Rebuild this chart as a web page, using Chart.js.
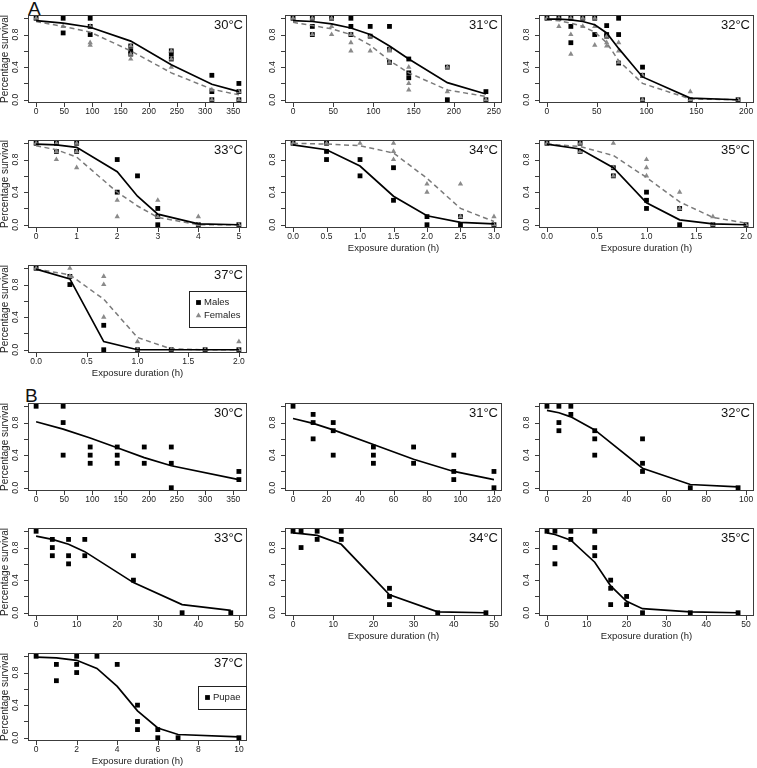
<!DOCTYPE html>
<html><head><meta charset="utf-8">
<script src="https://cdn.jsdelivr.net/npm/chart.js@4.4.1/dist/chart.umd.min.js"></script>
<style>
html,body{margin:0;padding:0;background:#fff;}
body{width:757px;height:768px;position:relative;overflow:hidden;font-family:"Liberation Sans",Arial,sans-serif;}
canvas{position:absolute;}
.lab{position:absolute;font-size:19px;line-height:19px;color:#111;}
</style></head><body>
<div class="lab" style="left:28px;top:-1px">A</div>
<div class="lab" style="left:25px;top:386px">B</div>
<script>
// ---------- Panel A: adults (males / females), 30–37 °C ----------
const A30_hours = [0, 48, 96, 168, 240, 312, 360];
const A30_ticks = [0, 50, 100, 150, 200, 250, 300, 350];
const A30_males = [[1.0], [1.0, 0.82], [1.0, 0.9, 0.8], [0.66, 0.6, 0.56], [0.6, 0.56, 0.5], [0.3, 0.1, 0.0], [0.2, 0.1, 0.0]];
const A30_females = [[1.0], [0.9], [0.9, 0.7, 0.67], [0.66, 0.56, 0.5], [0.6, 0.5, 0.4], [0.12, 0.0], [0.1, 0.0]];
const A30_maleFit = [0.97, 0.94, 0.89, 0.72, 0.43, 0.19, 0.10];
const A30_femaleFit = [0.96, 0.90, 0.83, 0.60, 0.33, 0.13, 0.06];

const A31_hours = [0, 24, 48, 72, 96, 120, 144, 192, 240];
const A31_ticks = [0, 50, 100, 150, 200, 250];
const A31_males = [[1.0], [1.0, 0.9, 0.8], [1.0], [1.0, 0.9, 0.8], [0.9, 0.78], [0.9, 0.62, 0.46], [0.5, 0.33, 0.27], [0.4, 0.0], [0.1, 0.0]];
const A31_females = [[1.0], [1.0, 0.8], [1.0, 0.9, 0.8], [0.8, 0.7, 0.6], [0.78, 0.6], [0.62, 0.6, 0.46], [0.4, 0.2, 0.12], [0.4, 0.1], [0.0]];
const A31_maleFit = [0.97, 0.96, 0.93, 0.88, 0.80, 0.66, 0.50, 0.21, 0.07];
const A31_femaleFit = [0.95, 0.91, 0.87, 0.80, 0.67, 0.48, 0.33, 0.12, 0.04];

const A32_hours = [0, 12, 24, 36, 48, 60, 72, 96, 144, 192];
const A32_ticks = [0, 50, 100, 150, 200];
const A32_males = [[1.0], [1.0], [1.0, 0.9, 0.7], [1.0], [1.0, 0.8], [0.91, 0.8, 0.78], [1.0, 0.8, 0.45], [0.4, 0.3, 0.0], [0.0], [0.0]];
const A32_females = [[1.0], [1.0, 0.9], [1.0, 0.8, 0.56], [1.0, 0.9], [1.0, 0.9, 0.67], [0.78, 0.7, 0.66], [0.7, 0.6, 0.46], [0.3, 0.0], [0.1, 0.0], [0.0]];
const A32_maleFit = [0.99, 0.99, 0.98, 0.96, 0.92, 0.82, 0.63, 0.28, 0.02, 0.0];
const A32_femaleFit = [0.98, 0.97, 0.94, 0.90, 0.83, 0.70, 0.48, 0.20, 0.01, 0.0];

const A33_hours = [0, 0.5, 1, 2, 2.5, 3, 4, 5];
const A33_ticks = [0, 1, 2, 3, 4, 5];
const A33_males = [[1.0], [1.0, 0.9], [1.0, 0.9], [0.8, 0.4], [0.6], [0.2, 0.1, 0.0], [0.0], [0.0]];
const A33_females = [[1.0], [1.0, 0.9, 0.8], [1.0, 0.9, 0.7], [0.3, 0.1], [], [0.3, 0.1], [0.1, 0.0], [0.0]];
const A33_maleFit = [0.99, 0.98, 0.95, 0.65, 0.35, 0.13, 0.01, 0.0];
const A33_femaleFit = [0.97, 0.92, 0.83, 0.40, 0.23, 0.09, 0.0, 0.0];

const A34_hours = [0, 0.5, 1, 1.5, 2, 2.5, 3];
const A34_ticks = [0, 0.5, 1, 1.5, 2, 2.5, 3];
const A34_males = [[1.0], [1.0, 0.9, 0.8], [0.8, 0.6], [0.7, 0.3], [0.1, 0.0], [0.1, 0.0], [0.0]];
const A34_females = [[1.0], [1.0], [1.0], [1.0, 0.9, 0.8], [0.5, 0.4], [0.5, 0.1], [0.1, 0.0]];
const A34_maleFit = [0.98, 0.92, 0.72, 0.35, 0.11, 0.03, 0.01];
const A34_femaleFit = [1.0, 0.99, 0.97, 0.88, 0.57, 0.20, 0.04];

const A35_hours = [0, 0.333, 0.667, 1.0, 1.333, 1.667, 2.0];
const A35_ticks = [0, 0.5, 1, 1.5, 2];
const A35_males = [[1.0], [1.0, 0.9], [0.7, 0.6], [0.4, 0.3, 0.2], [0.2, 0.0], [0.0], [0.0]];
const A35_females = [[1.0], [1.0, 0.9], [1.0, 0.7, 0.6], [0.8, 0.7, 0.6], [0.4, 0.2], [0.1, 0.0], [0.0]];
const A35_maleFit = [0.99, 0.93, 0.70, 0.27, 0.06, 0.01, 0.0];
const A35_femaleFit = [0.99, 0.96, 0.85, 0.58, 0.28, 0.09, 0.02];

const A37_hours = [0, 0.333, 0.667, 1.0, 1.333, 1.667, 2.0];
const A37_ticks = [0, 0.5, 1, 1.5, 2];
const A37_males = [[1.0], [0.9, 0.8], [0.3, 0.0], [0.0], [0.0], [0.0], [0.0]];
const A37_females = [[1.0], [1.0, 0.9], [0.9, 0.8, 0.4], [0.1, 0.0], [0.0], [0.0], [0.1, 0.0]];
const A37_maleFit = [0.99, 0.87, 0.10, 0.0, 0.0, 0.0, 0.0];
const A37_femaleFit = [0.99, 0.92, 0.62, 0.15, 0.01, 0.0, 0.0];

// ---------- Panel B: pupae, 30–37 °C ----------
const B30_hours = [0, 48, 96, 144, 192, 240, 360];
const B30_ticks = [0, 50, 100, 150, 200, 250, 300, 350];
const B30_pupae = [[1.0], [1.0, 0.8, 0.4], [0.5, 0.4, 0.3], [0.5, 0.4, 0.3], [0.5, 0.3], [0.5, 0.3, 0.0], [0.2, 0.1]];
const B30_fit = [0.81, 0.72, 0.61, 0.49, 0.37, 0.27, 0.10];

const B31_hours = [0, 12, 24, 48, 72, 96, 120];
const B31_ticks = [0, 20, 40, 60, 80, 100, 120];
const B31_pupae = [[1.0], [0.9, 0.8, 0.6], [0.8, 0.7, 0.4], [0.5, 0.4, 0.3], [0.5, 0.3], [0.4, 0.2, 0.1], [0.2, 0.0]];
const B31_fit = [0.85, 0.79, 0.71, 0.53, 0.35, 0.20, 0.10];

const B32_hours = [0, 6, 12, 24, 48, 72, 96];
const B32_ticks = [0, 20, 40, 60, 80, 100];
const B32_pupae = [[1.0], [1.0, 0.8, 0.7], [1.0, 0.9], [0.7, 0.6, 0.4], [0.6, 0.3, 0.2], [0.0], [0.0]];
const B32_fit = [0.95, 0.92, 0.87, 0.71, 0.24, 0.04, 0.01];

const B33_hours = [0, 4, 8, 12, 24, 36, 48];
const B33_ticks = [0, 10, 20, 30, 40, 50];
const B33_pupae = [[1.0], [0.9, 0.8, 0.7], [0.9, 0.7, 0.6], [0.9, 0.7], [0.7, 0.4], [0.0], [0.0]];
const B33_fit = [0.94, 0.90, 0.84, 0.75, 0.37, 0.10, 0.03];

const B34_hours = [0, 2, 6, 12, 24, 36, 48];
const B34_ticks = [0, 10, 20, 30, 40, 50];
const B34_pupae = [[1.0], [1.0, 0.8], [1.0, 0.9], [1.0, 0.9], [0.3, 0.2, 0.1], [0.0], [0.0]];
const B34_fit = [0.98, 0.97, 0.95, 0.84, 0.22, 0.01, 0.0];

const B35_hours = [0, 2, 6, 12, 16, 20, 24, 36, 48];
const B35_ticks = [0, 10, 20, 30, 40, 50];
const B35_pupae = [[1.0], [1.0, 0.8, 0.6], [1.0, 0.9], [1.0, 0.8, 0.7], [0.4, 0.3, 0.1], [0.2, 0.1], [0.0], [0.0], [0.0]];
const B35_fit = [0.98, 0.96, 0.89, 0.62, 0.33, 0.14, 0.05, 0.01, 0.0];

const B37_hours = [0, 1, 2, 3, 4, 5, 6, 7, 10];
const B37_ticks = [0, 2, 4, 6, 8, 10];
const B37_pupae = [[1.0], [0.9, 0.7], [1.0, 0.9, 0.8], [1.0], [0.9], [0.4, 0.2, 0.1], [0.1, 0.0], [0.0], [0.0]];
const B37_fit = [0.99, 0.98, 0.95, 0.85, 0.63, 0.33, 0.12, 0.04, 0.01];

const Y_TICKS = [0, 0.2, 0.4, 0.6, 0.8, 1.0];
const Y_LABELS = [0, 0.4, 0.8];

// ---------- styling / layout ----------
const FONT = "'Liberation Sans', Arial, Helvetica, sans-serif";
Chart.defaults.font.family = FONT;
Chart.defaults.color = '#222';
const AXIS = '#3c3c3c';
const MALE = '#000000', FEMALE = '#8a8a8a', FEMALE_LINE = '#7a7a7a';
const COLS = [{L:28,R:247},{L:285,R:502},{L:539,R:754}];
const ROWS = {A:[{T:15,B:103},{T:140,B:228},{T:265,B:353}], B:[{T:403,B:491},{T:528,B:616},{T:653,B:741}]};
const PADL = 30, PADT = 16, PADR = 4, PADB = 32;

function toPoints(hours, obs){ const out=[]; hours.forEach((h,i)=>(obs[i]||[]).forEach(v=>out.push({x:h,y:v}))); return out; }
function toLine(hours, fit){ return hours.map((h,i)=>({x:h,y:fit[i]})); }

const panels = [
  {set:'A',row:0,col:0,label:'30°C',hours:A30_hours,ticks:A30_ticks,xlim:[0,360],dec:0,males:A30_males,females:A30_females,mFit:A30_maleFit,fFit:A30_femaleFit,yTitle:true},
  {set:'A',row:0,col:1,label:'31°C',hours:A31_hours,ticks:A31_ticks,xlim:[0,250],dec:0,males:A31_males,females:A31_females,mFit:A31_maleFit,fFit:A31_femaleFit},
  {set:'A',row:0,col:2,label:'32°C',hours:A32_hours,ticks:A32_ticks,xlim:[0,200],dec:0,males:A32_males,females:A32_females,mFit:A32_maleFit,fFit:A32_femaleFit},
  {set:'A',row:1,col:0,label:'33°C',hours:A33_hours,ticks:A33_ticks,xlim:[0,5],dec:0,males:A33_males,females:A33_females,mFit:A33_maleFit,fFit:A33_femaleFit,yTitle:true},
  {set:'A',row:1,col:1,label:'34°C',hours:A34_hours,ticks:A34_ticks,xlim:[0,3],dec:1,males:A34_males,females:A34_females,mFit:A34_maleFit,fFit:A34_femaleFit,xTitle:true},
  {set:'A',row:1,col:2,label:'35°C',hours:A35_hours,ticks:A35_ticks,xlim:[0,2],dec:1,males:A35_males,females:A35_females,mFit:A35_maleFit,fFit:A35_femaleFit,xTitle:true},
  {set:'A',row:2,col:0,label:'37°C',hours:A37_hours,ticks:A37_ticks,xlim:[0,2],dec:1,males:A37_males,females:A37_females,mFit:A37_maleFit,fFit:A37_femaleFit,xTitle:true,yTitle:true,
    legend:[{text:'Males',shape:'square',color:MALE},{text:'Females',shape:'triangle',color:FEMALE}]},
  {set:'B',row:0,col:0,label:'30°C',hours:B30_hours,ticks:B30_ticks,xlim:[0,360],dec:0,males:B30_pupae,mFit:B30_fit,yTitle:true},
  {set:'B',row:0,col:1,label:'31°C',hours:B31_hours,ticks:B31_ticks,xlim:[0,120],dec:0,males:B31_pupae,mFit:B31_fit},
  {set:'B',row:0,col:2,label:'32°C',hours:B32_hours,ticks:B32_ticks,xlim:[0,100],dec:0,males:B32_pupae,mFit:B32_fit},
  {set:'B',row:1,col:0,label:'33°C',hours:B33_hours,ticks:B33_ticks,xlim:[0,50],dec:0,males:B33_pupae,mFit:B33_fit,yTitle:true},
  {set:'B',row:1,col:1,label:'34°C',hours:B34_hours,ticks:B34_ticks,xlim:[0,50],dec:0,males:B34_pupae,mFit:B34_fit,xTitle:true},
  {set:'B',row:1,col:2,label:'35°C',hours:B35_hours,ticks:B35_ticks,xlim:[0,50],dec:0,males:B35_pupae,mFit:B35_fit,xTitle:true},
  {set:'B',row:2,col:0,label:'37°C',hours:B37_hours,ticks:B37_ticks,xlim:[0,10],dec:0,males:B37_pupae,mFit:B37_fit,xTitle:true,yTitle:true,
    legend:[{text:'Pupae',shape:'square',color:MALE}]}
];

function drawSymbol(ctx, shape, x, y, color){
  ctx.fillStyle = color;
  if (shape === 'square'){ ctx.fillRect(x-2.4, y-2.4, 4.8, 4.8); }
  else { ctx.beginPath(); ctx.moveTo(x, y-3); ctx.lineTo(x+2.7, y+1.8); ctx.lineTo(x-2.7, y+1.8); ctx.closePath(); ctx.fill(); }
}

const rBase = {
  id: 'rBase',
  afterDraw(chart, args, o){
    const ctx = chart.ctx, a = chart.chartArea, ys = chart.scales.y, xs = chart.scales.x;
    ctx.save();
    ctx.strokeStyle = AXIS; ctx.lineWidth = 1;
    ctx.strokeRect(a.left + 0.5, a.top + 0.5, a.right - a.left - 1, a.bottom - a.top - 1);
    ctx.beginPath();
    Y_TICKS.forEach(v => { const p = Math.round(ys.getPixelForValue(v)) + 0.5; ctx.moveTo(a.left + 0.5, p); ctx.lineTo(a.left - 4, p); });
    xs.ticks.forEach(t => { const p = Math.round(xs.getPixelForValue(t.value)) + 0.5; ctx.moveTo(p, a.bottom - 0.5); ctx.lineTo(p, a.bottom + 4); });
    ctx.stroke();
    ctx.fillStyle = '#222';
    ctx.font = '8.5px ' + FONT;
    ctx.textAlign = 'center'; ctx.textBaseline = 'middle';
    Y_LABELS.forEach(v => {
      ctx.save(); ctx.translate(a.left - 12, ys.getPixelForValue(v)); ctx.rotate(-Math.PI/2);
      ctx.fillText(v.toFixed(1), 0, 0); ctx.restore();
    });
    ctx.font = '13px ' + FONT; ctx.textAlign = 'right'; ctx.textBaseline = 'alphabetic'; ctx.fillStyle = '#111';
    ctx.fillText(o.label, a.right - 4, a.top + 13.5);
    ctx.font = '9.5px ' + FONT; ctx.fillStyle = '#222'; ctx.textAlign = 'center'; ctx.textBaseline = 'middle';
    if (o.xTitle) ctx.fillText('Exposure duration (h)', (a.left + a.right)/2, a.bottom + 20.5);
    if (o.yTitle){ ctx.save(); ctx.font = '10px ' + FONT; ctx.translate(a.left - 22.5, (a.top + a.bottom)/2); ctx.rotate(-Math.PI/2); ctx.fillText('Percentage survival', 0, 0); ctx.restore(); }
    if (o.legend){
      ctx.font = '9.5px ' + FONT;
      let tw = 0; o.legend.forEach(e => tw = Math.max(tw, ctx.measureText(e.text).width));
      const w = Math.round(tw + 22), h = Math.round(10 + 13 * o.legend.length);
      const r = a.right, l = r - w, cy = (a.top + a.bottom)/2, t = Math.round(cy - h/2);
      ctx.strokeStyle = '#222'; ctx.strokeRect(l + 0.5, t + 0.5, w - 1, h);
      ctx.textAlign = 'left';
      o.legend.forEach((e, i) => {
        const y = t + 11.5 + 13 * i;
        drawSymbol(ctx, e.shape, l + 9.5, y, e.color);
        ctx.fillStyle = '#222'; ctx.fillText(e.text, l + 15, y);
      });
    }
    ctx.restore();
  }
};

panels.forEach(p => {
  const c = COLS[p.col], r = ROWS[p.set][p.row];
  const W = (c.R - c.L) + PADL + PADR, H = (r.B - r.T) + PADT + PADB;
  const cv = document.createElement('canvas');
  cv.width = W; cv.height = H;
  cv.style.left = (c.L - PADL) + 'px'; cv.style.top = (r.T - PADT) + 'px';
  cv.style.width = W + 'px'; cv.style.height = H + 'px';
  document.body.appendChild(cv);
  const span = p.xlim[1] - p.xlim[0];
  const datasets = [
    {type:'scatter', data: toLine(p.hours, p.mFit), showLine:true, borderColor:MALE, borderWidth:1.7, pointRadius:0, tension:0, fill:false}
  ];
  if (p.fFit) datasets.push({type:'scatter', data: toLine(p.hours, p.fFit), showLine:true, borderColor:FEMALE_LINE, borderWidth:1.5, borderDash:[5,3.5], pointRadius:0, tension:0, fill:false});
  if (p.females) datasets.push({type:'scatter', data: toPoints(p.hours, p.females), pointStyle:'triangle', pointRadius:3.1, backgroundColor:FEMALE, borderWidth:0, showLine:false});
  datasets.push({type:'scatter', data: toPoints(p.hours, p.males), pointStyle:'rect', pointRadius:3.4, backgroundColor:MALE, borderWidth:0, showLine:false});
  new Chart(cv, {
    type: 'scatter',
    data: { datasets },
    options: {
      responsive:false, animation:false, devicePixelRatio:1, events:[],
      layout:{ padding:{left:0, top:PADT, right:PADR, bottom:0}, autoPadding:false },
      plugins:{ legend:{display:false}, tooltip:{enabled:false},
        rBase:{ label:p.label, xTitle:!!p.xTitle, yTitle:!!p.yTitle, legend:p.legend } },
      scales:{
        x:{ type:'linear', min:p.xlim[0] - 0.04*span, max:p.xlim[1] + 0.04*span,
            afterBuildTicks: ax => { ax.ticks = p.ticks.map(v => ({value:v})); },
            afterFit: s => { s.height = PADB; },
            grid:{display:false, drawTicks:false, tickLength:0}, border:{display:false},
            ticks:{ autoSkip:false, maxRotation:0, minRotation:0, padding:4, color:'#222', font:{size:8.5},
                    callback: v => p.dec ? Number(v).toFixed(p.dec) : String(v) } },
        y:{ type:'linear', min:-0.04, max:1.04,
            afterFit: s => { s.width = PADL; },
            grid:{display:false, drawTicks:false}, border:{display:false}, ticks:{display:false} }
      }
    },
    plugins:[rBase]
  });
});
</script></body></html>
